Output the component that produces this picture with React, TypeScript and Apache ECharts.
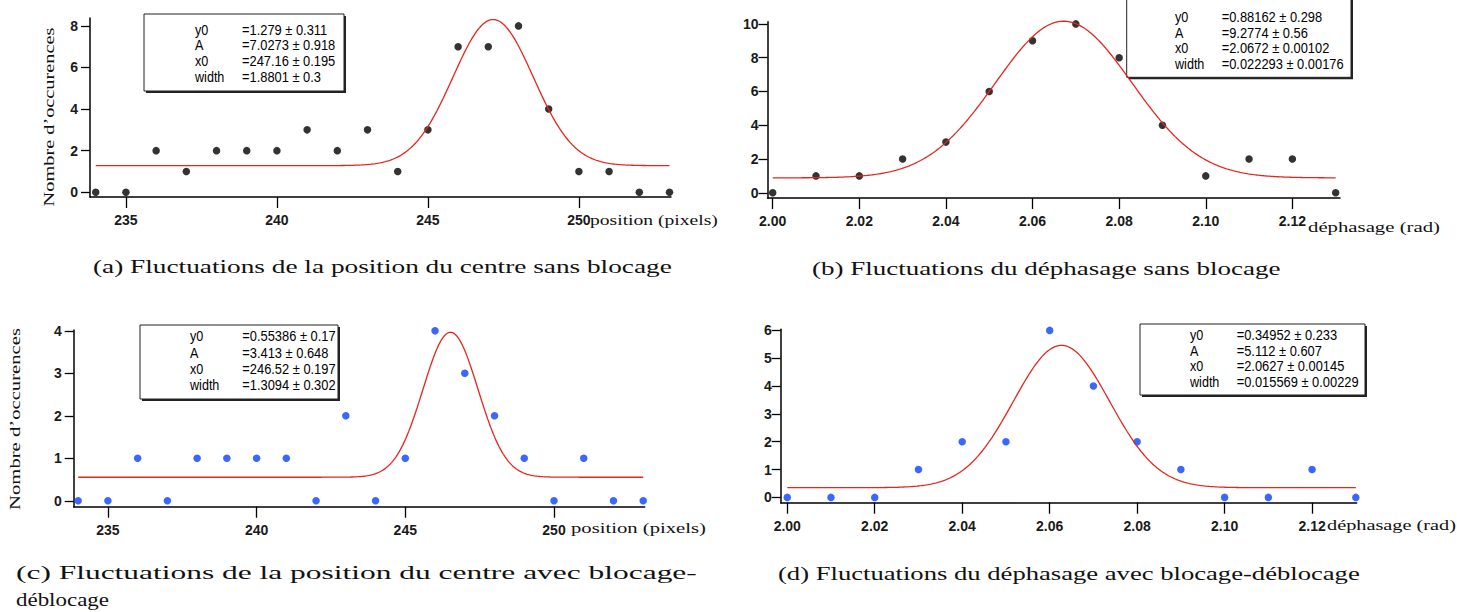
import React, { useEffect, useRef } from "react";
import * as echarts from "echarts";

// ---------- data ----------
const positionBins = [234, 235, 236, 237, 238, 239, 240, 241, 242, 243, 244, 245, 246, 247, 248, 249, 250, 251, 252, 253];
const countsA = [0, 0, 2, 1, 2, 2, 2, 3, 2, 3, 1, 3, 7, 7, 8, 4, 1, 1, 0, 0];
const countsC = [0, 0, 1, 0, 1, 1, 1, 1, 0, 2, 0, 1, 4, 3, 2, 1, 0, 1, 0, 0];

const phaseBins = [2.0, 2.01, 2.02, 2.03, 2.04, 2.05, 2.06, 2.07, 2.08, 2.09, 2.1, 2.11, 2.12, 2.13];
const countsB = [0, 1, 1, 2, 3, 6, 9, 10, 8, 4, 1, 2, 2, 0];
const countsD = [0, 0, 0, 1, 2, 2, 6, 4, 2, 1, 0, 0, 1, 0];

// Gaussian fit parameters shown in the boxes: y0, A, x0, width
const fitNames = ["y0", "A", "x0", "width"];
const fitA = [1.279, 7.0273, 247.16, 1.8801];
const fitErrA = [0.311, 0.918, 0.195, 0.3];
const fitB = [0.88162, 9.2774, 2.0672, 0.022293];
const fitErrB = [0.298, 0.56, 0.00102, 0.00176];
const fitC = [0.55386, 3.413, 246.52, 1.3094];
const fitErrC = [0.17, 0.648, 0.197, 0.302];
const fitD = [0.34952, 5.112, 2.0627, 0.015569];
const fitErrD = [0.233, 0.607, 0.00145, 0.00229];
const fitRangePosition = [234, 253];
const fitRangePhase = [2.0, 2.13];

const positionTicks = [235, 240, 245, 250];
const phaseTicks = [2.0, 2.02, 2.04, 2.06, 2.08, 2.1, 2.12];
const yTicksA = [0, 2, 4, 6, 8];
const yTicksB = [0, 2, 4, 6, 8, 10];
const yTicksC = [0, 1, 2, 3, 4];
const yTicksD = [0, 1, 2, 3, 4, 5, 6];

const positionAxisName = "position (pixels)";
const phaseAxisName = "déphasage (rad)";
const countAxisName = "Nombre d’occurences";
const captionA = "(a) Fluctuations de la position du centre sans blocage";
const captionB = "(b) Fluctuations du déphasage sans blocage";
const captionC1 = "(c) Fluctuations de la position du centre avec blocage-";
const captionC2 = "déblocage";
const captionD = "(d) Fluctuations du déphasage avec blocage-déblocage";

// ---------- helpers ----------
const SERIF = "'Liberation Serif', 'Times New Roman', serif";
const SANS = "'Liberation Sans', Arial, sans-serif";
const BLACK = "#000000";
const BLUE = "#0a40ff";
const RED = "#e3261e";

function measure(text: string, size: number, family: string, weight = "normal"): number {
  const ctx = document.createElement("canvas").getContext("2d");
  if (!ctx) return text.length * size * 0.5;
  ctx.font = `${weight} ${size}px ${family}`;
  return ctx.measureText(text).width;
}

function gaussCurve(p: number[], range: number[], n: number): number[][] {
  const [y0, A, x0, w] = p;
  const out: number[][] = [];
  for (let i = 0; i <= n; i++) {
    const x = range[0] + ((range[1] - range[0]) * i) / n;
    out.push([x, y0 + A * Math.exp(-Math.pow((x - x0) / w, 2))]);
  }
  return out;
}

function pairs(xs: number[], ys: number[]): number[][] {
  return xs.map((x, i) => [x, ys[i]]);
}

function stretchedText(text: string, x: number, y: number, size: number, target: number) {
  const w = measure(text, size, SERIF);
  return {
    type: "text",
    x,
    y,
    scaleX: target / w,
    silent: true,
    style: { text, fontSize: size, fontFamily: SERIF, fill: "#111", textAlign: "left", textVerticalAlign: "middle" },
  };
}

function rotatedName(cx: number, cy: number, length: number) {
  const size = 14;
  const w = measure(countAxisName, size, SERIF);
  return {
    type: "text",
    x: cx,
    y: cy,
    rotation: Math.PI / 2,
    scaleX: length / w,
    silent: true,
    style: { text: countAxisName, fontSize: size, fontFamily: SERIF, fill: "#111", textAlign: "center", textVerticalAlign: "middle" },
  };
}

function fitBox(x: number, y: number, w: number, h: number, labelX: number, valueX: number, rows: number[], p: number[], e: number[]) {
  const children: any[] = [
    { type: "rect", shape: { x: x + 2, y: y + 2, width: w, height: h }, style: { fill: "#222" }, silent: true },
    { type: "rect", shape: { x, y, width: w, height: h }, style: { fill: "#fff", stroke: "#222", lineWidth: 1 }, silent: true },
  ];
  fitNames.forEach((n, i) => {
    children.push({
      type: "text", x: labelX, y: rows[i], scaleX: 0.9, silent: true,
      style: { text: n, fontSize: 14, fontFamily: SANS, fill: "#000", textAlign: "left", textVerticalAlign: "middle" },
    });
    children.push({
      type: "text", x: valueX, y: rows[i], scaleX: 0.92, silent: true,
      style: { text: `=${p[i]} ± ${e[i]}`, fontSize: 14, fontFamily: SANS, fill: "#000", textAlign: "left", textVerticalAlign: "middle" },
    });
  });
  return { type: "group", children };
}

function xAxisCfg(idx: number, min: number, max: number, ticks: number[], fmt: (v: number) => string) {
  return {
    type: "value",
    gridIndex: idx,
    min,
    max,
    axisLine: { show: true, onZero: false, lineStyle: { color: "#000", width: 1.5 } },
    axisTick: { show: true, customValues: ticks, length: 11, inside: false, lineStyle: { color: "#000", width: 1.3 } },
    axisLabel: {
      show: true, customValues: ticks, formatter: fmt, margin: 16,
      fontSize: 14, fontFamily: SANS, fontWeight: "bold", color: "#1a1a1a",
    },
    splitLine: { show: false },
  };
}

function yAxisCfg(idx: number, min: number, max: number, ticks: number[], margin: number) {
  return {
    type: "value",
    gridIndex: idx,
    min,
    max,
    axisLine: { show: true, onZero: false, lineStyle: { color: "#000", width: 1.5 } },
    axisTick: { show: true, customValues: ticks, length: 9, inside: false, lineStyle: { color: "#000", width: 1.3 } },
    axisLabel: {
      show: true, customValues: ticks, formatter: (v: number) => String(v), margin,
      fontSize: 14, fontFamily: SANS, fontWeight: "bold", color: "#1a1a1a",
    },
    splitLine: { show: false },
  };
}

function scatter(idx: number, data: number[][], color: string) {
  return {
    type: "scatter", xAxisIndex: idx, yAxisIndex: idx, data,
    symbol: "circle", symbolSize: 7.5, itemStyle: { color }, clip: false, z: 2,
  };
}

function fitLine(idx: number, data: number[][]) {
  return {
    type: "line", xAxisIndex: idx, yAxisIndex: idx, data,
    showSymbol: false, symbol: "none", lineStyle: { color: RED, width: 1.3 }, z: 3, clip: false,
  };
}

export default function App() {
  const ref = useRef<HTMLDivElement>(null);

  useEffect(() => {
    if (!ref.current) return;
    const chart = echarts.init(ref.current, null, { renderer: "svg" });
    const fmtInt = (v: number) => String(Math.round(v));
    const fmt2 = (v: number) => v.toFixed(2);

    const option: any = {
      animation: false,
      backgroundColor: "#ffffff",
      textStyle: { fontFamily: SANS },
      grid: [
        { left: 90, top: 18, width: 581, height: 179 },
        { left: 767.5, top: 21.7, width: 572.5, height: 176.3 },
        { left: 73.7, top: 330, width: 571, height: 176.7 },
        { left: 780.7, top: 329.3, width: 576, height: 173.4 },
      ],
      xAxis: [
        xAxisCfg(0, 233.81, 253.05, positionTicks, fmtInt),
        xAxisCfg(1, 1.9988, 2.131, phaseTicks, fmt2),
        xAxisCfg(2, 233.85, 253.05, positionTicks, fmtInt),
        xAxisCfg(3, 1.9985, 2.1302, phaseTicks, fmt2),
      ],
      yAxis: [
        yAxisCfg(0, -0.23, 8.38, yTicksA, 12),
        yAxisCfg(1, -0.31, 10.13, yTicksB, 9),
        yAxisCfg(2, -0.14, 4.02, yTicksC, 12),
        yAxisCfg(3, -0.19, 6.04, yTicksD, 9),
      ],
      series: [
        scatter(0, pairs(positionBins, countsA), BLACK),
        scatter(1, pairs(phaseBins, countsB), BLACK),
        scatter(2, pairs(positionBins, countsC), BLUE),
        scatter(3, pairs(phaseBins, countsD), BLUE),
        fitLine(0, gaussCurve(fitA, fitRangePosition, 400)),
        fitLine(1, gaussCurve(fitB, fitRangePhase, 400)),
        fitLine(2, gaussCurve(fitC, fitRangePosition, 400)),
        fitLine(3, gaussCurve(fitD, fitRangePhase, 400)),
      ],
      graphic: [
        fitBox(144, 14, 200, 77, 195, 242, [30, 45.5, 61, 77], fitA, fitErrA),
        fitBox(1126.7, -10, 224.3, 87.3, 1175, 1221.7, [17.5, 33, 48.5, 64.5], fitB, fitErrB),
        fitBox(140, 325, 198, 74, 190, 242.3, [336.7, 353, 369.3, 385.7], fitC, fitErrC),
        fitBox(1140, 324, 225, 71, 1190, 1236.7, [335.7, 351.7, 366.7, 382.7], fitD, fitErrD),
        stretchedText(positionAxisName, 590, 220, 15, 128),
        stretchedText(phaseAxisName, 1308, 226.7, 15, 132),
        stretchedText(positionAxisName, 571, 528, 15, 135),
        stretchedText(phaseAxisName, 1327, 525, 15, 129),
        rotatedName(49, 117, 179),
        rotatedName(15.5, 419, 182),
        stretchedText(captionA, 93, 267, 18, 579),
        stretchedText(captionB, 812, 269, 18, 469),
        stretchedText(captionC1, 16, 573, 18, 681),
        stretchedText(captionC2, 16, 600, 18, 93),
        stretchedText(captionD, 778, 574, 18, 582),
      ],
    };
    chart.setOption(option);
    return () => chart.dispose();
  }, []);

  return (
    <div
      ref={ref}
      style={{ position: "absolute", left: 0, top: 0, width: 1457, height: 612, background: "#fff" }}
    />
  );
}
